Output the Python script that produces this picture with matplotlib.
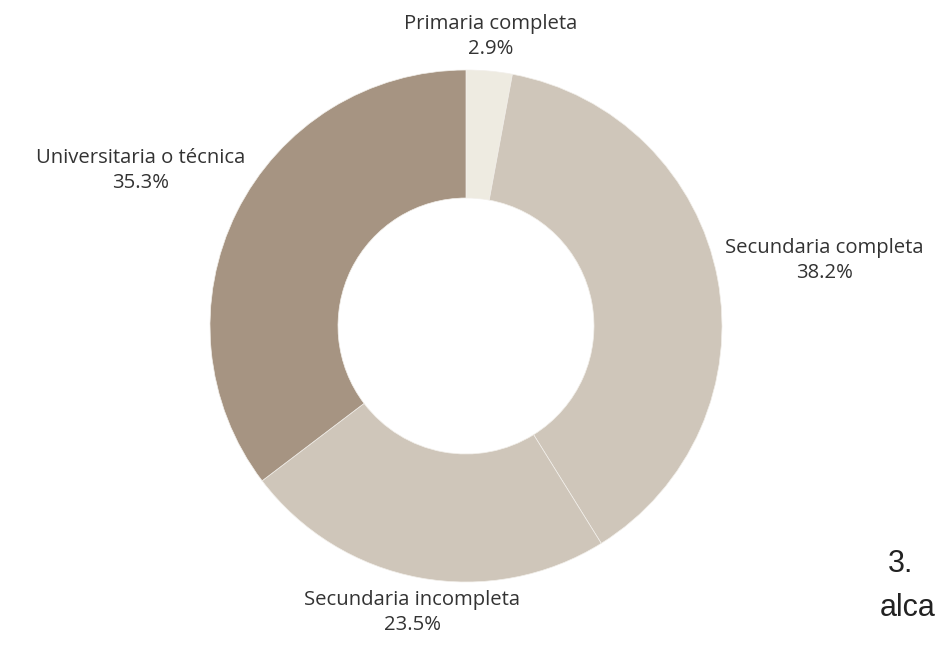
import matplotlib.pyplot as plt

# data
categorias = ["Primaria completa", "Secundaria completa", "Secundaria incompleta", "Universitaria o técnica"]
porcentajes = [2.9, 38.2, 23.5, 35.3]
colores = ["#EEEBE1", "#CFC6BA", "#CFC6BA", "#A69482"]

# label positions (in units of the outer radius)
pos_etiquetas = [(0.096, 1.13), (1.40, 0.255), (-0.21, -1.12), (-1.27, 0.607)]

plt.rcParams["font.family"] = ["Open Sans", "DejaVu Sans"]

fig = plt.figure(figsize=(9.38, 6.45), dpi=100)
R = 261 / 100  # outer radius in inches
cx, cy = 466 / 938, (645 - 326) / 645
ax = fig.add_axes([cx - 3.2 / 9.38, cy - 3.2 / 6.45, 6.4 / 9.38, 6.4 / 6.45])
ax.set_xlim(-3.2 / R, 3.2 / R)
ax.set_ylim(-3.2 / R, 3.2 / R)
ax.set_aspect("equal")
ax.axis("off")

wedges, _ = ax.pie(porcentajes, colors=colores, startangle=90, counterclock=False,
                   radius=1, wedgeprops=dict(width=0.5, edgecolor="#F2EFEA", linewidth=0.5))

for cat, val, (x, y) in zip(categorias, porcentajes, pos_etiquetas):
    ax.text(x, y, f"{cat}\n{val}%", ha="center", va="center", fontsize=14.6,
            color="#333333", linespacing=1.3, multialignment="center")

fig.text(888 / 938, 1 - 564 / 645, "3.", fontsize=22, family="Liberation Sans",
         color="#222222", ha="left", va="center")
fig.text(880 / 938, 1 - 608 / 645, "alca", fontsize=22, family="Liberation Sans",
         color="#222222", ha="left", va="center")

fig.savefig("out.png", dpi=100)
